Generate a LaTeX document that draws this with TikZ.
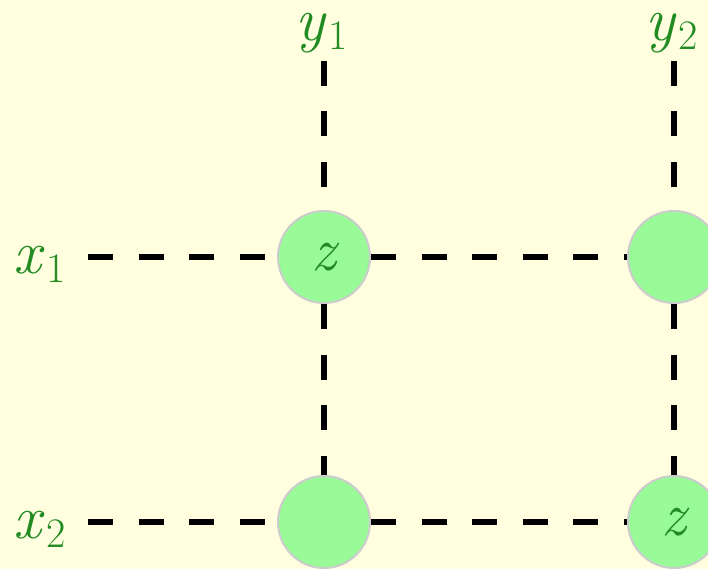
\documentclass[tikz,border=0pt]{standalone}
\definecolor{paper}{HTML}{FFFFE0}
\definecolor{ink}{HTML}{228B22}
\definecolor{cellfill}{HTML}{98FB98}
\definecolor{cellrim}{HTML}{CCCCCC}
% a letter with a lowered index
\newcommand\indexed[2]{\textit{#1}\kern2pt\raisebox{-9pt}{\fontsize{42}{44}\selectfont #2}}
\tikzset{
  lbl/.style={text=ink, inner sep=0pt, anchor=base west, font=\fontsize{62}{64}\selectfont},
  cell/.style={circle, fill=cellfill, draw=cellrim, line width=2pt, minimum size=92pt,
               inner sep=0pt, text=ink, font=\fontsize{62}{64}\selectfont\itshape},
  link/.style={line width=5.5pt, dash pattern=on 25pt off 25.5pt, black}
}
\begin{document}
\begin{tikzpicture}[x=1pt, y=-1pt]
  \fill[paper] (0,0) rectangle (708,569);
  \useasboundingbox (0,0) rectangle (708,569);

  % row and column labels
  \node[lbl] (x1) at (13,273) {\indexed{x}{1}};
  \node[lbl] (x2) at (13,538) {\indexed{x}{2}};
  \node[lbl] (y1) at (295,41) {\indexed{y}{1}};
  \node[lbl] (y2) at (645,41) {\indexed{y}{2}};

  % free ends of the label leads
  \coordinate (x1e) at (88,257);
  \coordinate (x2e) at (88,522);
  \coordinate (y1e) at (324,61);
  \coordinate (y2e) at (674,61);

  % grid cells
  \node[cell] (c11) at (324,257) {z};
  \node[cell] (c12) at (674,257) {};
  \node[cell] (c21) at (324,522) {};
  \node[cell] (c22) at (674,522) {z};

  % dashed connections
  \draw[link] (x1e) -- (c11);
  \draw[link] (x2e) -- (c21);
  \draw[link] (y1e) -- (c11);
  \draw[link] (y2e) -- (c12);
  \draw[link] (c11) -- (c12);
  \draw[link] (c21) -- (c22);
  \draw[link] (c11) -- (c21);
  \draw[link] (c12) -- (c22);
\end{tikzpicture}
\end{document}
